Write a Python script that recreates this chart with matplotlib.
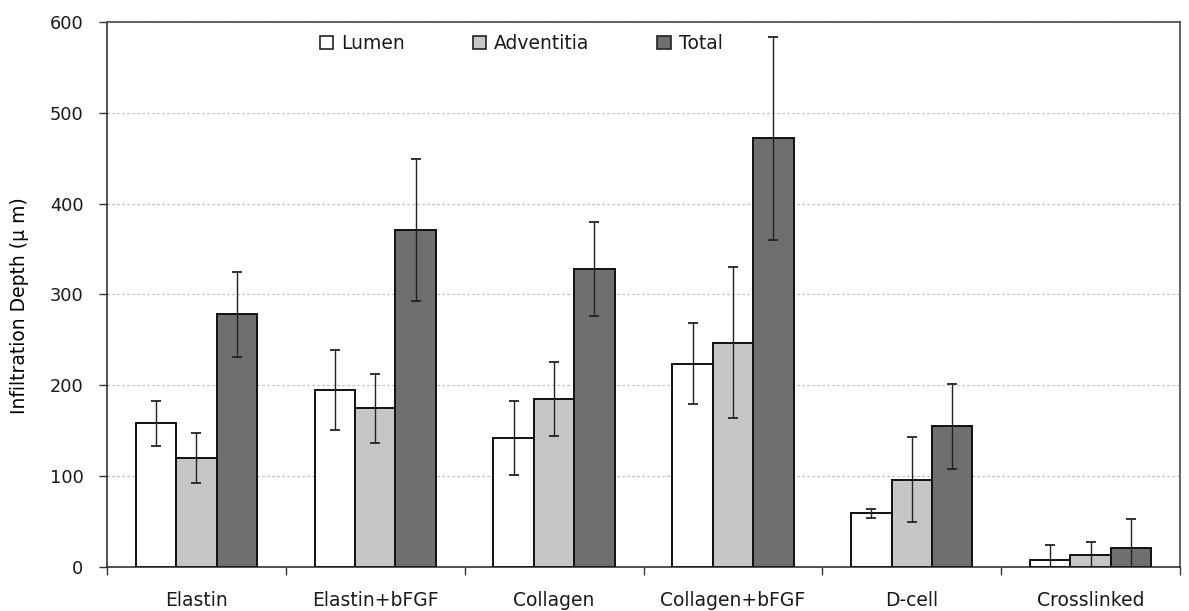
import numpy as np
import matplotlib
matplotlib.use("Agg")
import matplotlib.pyplot as plt
from matplotlib.patches import Patch

plt.rcParams['font.family'] = ['DejaVu Sans']
plt.rcParams['text.color'] = '#1a1a1a'

categories = ["Elastin", "Elastin+bFGF", "Collagen", "Collagen+bFGF", "D-cell", "Crosslinked"]
series_names = ["Lumen", "Adventitia", "Total"]

lumen = [158, 195, 142, 224, 59, 8]
lumen_err = [25, 44, 41, 45, 5, 16]
adventitia = [120, 175, 185, 247, 96, 13]
adventitia_err = [27, 38, 41, 83, 47, 15]
total = [278, 371, 328, 472, 155, 21]
total_err = [47, 78, 52, 112, 47, 32]

y_ticks = [0, 100, 200, 300, 400, 500, 600]

colors = ["#ffffff", "#c6c6c6", "#6f6f6f"]
values = [lumen, adventitia, total]
errors = [lumen_err, adventitia_err, total_err]

fig = plt.figure(figsize=(11.89, 6.11), dpi=100)
ax = fig.add_axes([107 / 1189, 1 - 567 / 611, (1180 - 107) / 1189, (567 - 22) / 611])

n = len(categories)
centers = np.arange(n) + 0.5
width = 0.226
offsets = [-width, 0.0, width]

for vals, errs, col, off, name in zip(values, errors, colors, offsets, series_names):
    ax.bar(centers + off, vals, width=width, color=col, edgecolor="#111111",
           linewidth=1.4, zorder=2, label=name)
    ax.errorbar(centers + off, vals, yerr=errs, fmt="none", ecolor="#222222",
                elinewidth=1.0, capsize=3.4, capthick=1.3, zorder=3)

ax.set_xlim(0, n)
ax.set_ylim(0, 600)
ax.set_yticks(y_ticks)
ax.set_yticklabels([str(t) for t in y_ticks], fontsize=12.8, color="#1a1a1a")

ax.set_xticks(np.arange(n + 1))
ax.set_xticklabels([])
ax.set_xticks(centers, minor=True)
ax.set_xticklabels(categories, minor=True, fontsize=13.5, color="#1a1a1a")
ax.tick_params(axis="x", which="major", direction="out", length=5.5, width=1.0, color="#333333")
ax.tick_params(axis="x", which="minor", length=0, pad=17.5)
ax.tick_params(axis="y", direction="out", length=6, width=1.0, color="#333333", pad=11)

ax.yaxis.grid(True, linestyle=(0, (2, 2.5)), color="#b5b5b5", linewidth=0.8)
ax.set_axisbelow(True)

for side in ["top", "right"]:
    ax.spines[side].set_color("#555555")
    ax.spines[side].set_linewidth(1.3)
ax.spines["left"].set_color("#222222")
ax.spines["bottom"].set_color("#222222")
ax.spines["left"].set_linewidth(1.1)
ax.spines["bottom"].set_linewidth(1.1)

ax.set_ylabel("Infiltration Depth (\u03bc m)", fontsize=13.5)
ax.yaxis.set_label_coords(-0.073, 0.48)

handles = [Patch(facecolor=c, edgecolor="#222222", linewidth=1.2) for c in colors]
ax.legend(handles, series_names, loc="center", bbox_to_anchor=(0.386, 0.961),
          ncol=3, frameon=False, fontsize=13.5, handlelength=0.72, handleheight=0.72,
          handletextpad=0.43, columnspacing=3.6, borderpad=0)

fig.savefig("out.png", dpi=100, facecolor="white")
